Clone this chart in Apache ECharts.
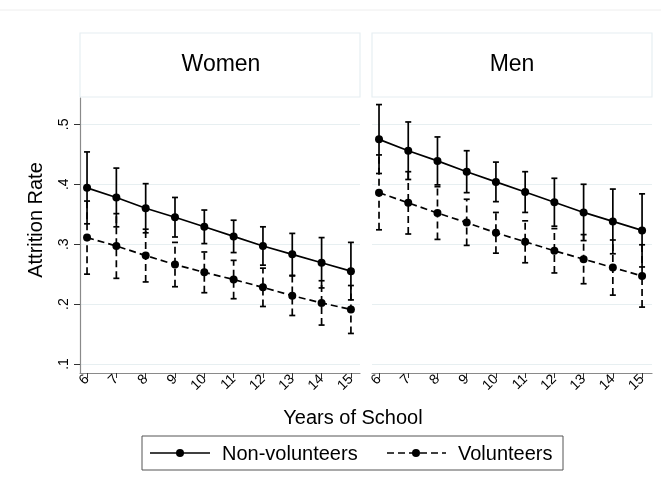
<!DOCTYPE html>
<html>
<head>
<meta charset="utf-8">
<script src="https://cdn.jsdelivr.net/npm/echarts@6/dist/echarts.min.js"></script>
<style>html,body{margin:0;padding:0;background:#fff;}#c{width:661px;height:487px;}</style>
</head>
<body>
<div id="c"></div>
<script>
var years = [6, 7, 8, 9, 10, 11, 12, 13, 14, 15];
var yTicks = [0.1, 0.2, 0.3, 0.4, 0.5];
var panels = ['Women', 'Men'];
var seriesNames = ['Non-volunteers', 'Volunteers'];

var womenNonVol   = [0.394, 0.378, 0.360, 0.345, 0.329, 0.313, 0.297, 0.283, 0.269, 0.255];
var womenNonVolLo = [0.334, 0.329, 0.319, 0.312, 0.301, 0.286, 0.265, 0.248, 0.227, 0.207];
var womenNonVolHi = [0.454, 0.427, 0.401, 0.378, 0.357, 0.340, 0.329, 0.318, 0.311, 0.303];

var womenVol   = [0.311, 0.297, 0.281, 0.266, 0.253, 0.241, 0.228, 0.214, 0.202, 0.191];
var womenVolLo = [0.250, 0.243, 0.237, 0.229, 0.219, 0.209, 0.196, 0.181, 0.165, 0.151];
var womenVolHi = [0.372, 0.351, 0.325, 0.303, 0.287, 0.273, 0.260, 0.247, 0.239, 0.231];

var menNonVol   = [0.475, 0.456, 0.439, 0.421, 0.404, 0.387, 0.370, 0.353, 0.338, 0.323];
var menNonVolLo = [0.418, 0.408, 0.399, 0.386, 0.371, 0.353, 0.330, 0.306, 0.284, 0.262];
var menNonVolHi = [0.533, 0.504, 0.479, 0.456, 0.437, 0.421, 0.410, 0.400, 0.392, 0.384];

var menVol   = [0.386, 0.369, 0.352, 0.336, 0.319, 0.304, 0.289, 0.275, 0.261, 0.247];
var menVolLo = [0.324, 0.317, 0.308, 0.298, 0.285, 0.269, 0.252, 0.234, 0.215, 0.195];
var menVolHi = [0.449, 0.421, 0.396, 0.375, 0.353, 0.339, 0.326, 0.316, 0.307, 0.299];

var FONT = '"Liberation Sans", Arial, sans-serif';
var DASH = [7, 4];

function pairs(vals) { return years.map(function (y, i) { return [y, vals[i]]; }); }
function triples(lo, hi) { return years.map(function (y, i) { return [y, lo[i], hi[i]]; }); }

function errSeries(name, idx, lo, hi, dashed) {
  return {
    type: 'custom', name: name, xAxisIndex: idx, yAxisIndex: idx, z: 3,
    data: triples(lo, hi), silent: true,
    renderItem: function (params, api) {
      var x = api.value(0);
      var p1 = api.coord([x, api.value(1)]);
      var p2 = api.coord([x, api.value(2)]);
      var cw = 3;
      var st = { stroke: '#000', lineWidth: 1.7, lineDash: dashed ? DASH : null };
      var cs = { stroke: '#000', lineWidth: 1.7 };
      return {
        type: 'group',
        children: [
          { type: 'line', shape: { x1: p1[0], y1: p1[1], x2: p2[0], y2: p2[1] }, style: st },
          { type: 'line', shape: { x1: p1[0] - cw, y1: p1[1], x2: p1[0] + cw, y2: p1[1] }, style: cs },
          { type: 'line', shape: { x1: p2[0] - cw, y1: p2[1], x2: p2[0] + cw, y2: p2[1] }, style: cs }
        ]
      };
    }
  };
}

function lineSeries(name, idx, vals, dashed) {
  return {
    type: 'line', name: name, xAxisIndex: idx, yAxisIndex: idx, z: 4,
    data: pairs(vals), symbol: 'circle', symbolSize: 8, showSymbol: true,
    lineStyle: { color: '#000', width: 1.7, type: dashed ? DASH : 'solid' },
    itemStyle: { color: '#000' }, silent: true
  };
}

function xAxisFor(idx, min, max) {
  return {
    type: 'value', gridIndex: idx, min: min, max: max,
    axisLine: { show: true, lineStyle: { color: '#8a8a8a', width: 1.2 } },
    axisTick: { show: true, customValues: years, length: 5, lineStyle: { color: '#333', width: 1 } },
    axisLabel: { customValues: years, rotate: 45, fontSize: 14, color: '#000', fontFamily: FONT, margin: 4 },
    splitLine: { show: false }
  };
}

function yAxisFor(idx, showAxis) {
  return {
    type: 'value', gridIndex: idx, min: 0.085, max: 0.544,
    axisLine: { show: showAxis, lineStyle: { color: '#8a8a8a', width: 1.2 } },
    axisTick: { show: showAxis, customValues: yTicks, length: 6, lineStyle: { color: '#333' } },
    axisLabel: {
      show: showAxis, customValues: yTicks, rotate: 90, fontSize: 14, color: '#000', fontFamily: FONT, margin: 9,
      formatter: function (v) { return String(Math.round(v * 10) / 10).replace(/^0/, ''); }
    },
    splitLine: { show: true, lineStyle: { color: '#e7eff1', width: 1.2 } }
  };
}

var option = {
  backgroundColor: '#fff',
  animation: false,
  grid: [
    { left: 80, top: 98, width: 280, height: 275 },
    { left: 372, top: 98, width: 280, height: 275 }
  ],
  xAxis: [xAxisFor(0, 5.76, 15.31), xAxisFor(1, 5.76, 15.34)],
  yAxis: [yAxisFor(0, true), yAxisFor(1, false)],
  graphic: [
    { type: 'line', shape: { x1: 0, y1: 10, x2: 661, y2: 10 }, style: { stroke: '#eeeeee', lineWidth: 1 }, silent: true },
    { type: 'rect', shape: { x: 80, y: 33, width: 280, height: 64 }, style: { fill: '#fff', stroke: '#e6eef2', lineWidth: 1.2 } },
    { type: 'rect', shape: { x: 372, y: 33, width: 280, height: 64 }, style: { fill: '#fff', stroke: '#e6eef2', lineWidth: 1.2 } },
    { type: 'text', x: 221, y: 65, style: { text: panels[0], fontSize: 23, fill: '#000', fontFamily: FONT, align: 'center', verticalAlign: 'middle' } },
    { type: 'text', x: 512, y: 65, style: { text: panels[1], fontSize: 23, fill: '#000', fontFamily: FONT, align: 'center', verticalAlign: 'middle' } },
    { type: 'text', x: 36, y: 220, rotation: Math.PI / 2, style: { text: 'Attrition Rate', fontSize: 20, fill: '#000', fontFamily: FONT, align: 'center', verticalAlign: 'middle' } },
    { type: 'text', x: 353, y: 418, style: { text: 'Years of School', fontSize: 20, fill: '#000', fontFamily: FONT, align: 'center', verticalAlign: 'middle' } },
    { type: 'rect', shape: { x: 142, y: 436, width: 421, height: 34 }, style: { fill: '#fff', stroke: '#555', lineWidth: 1 } },
    { type: 'line', shape: { x1: 150, y1: 453, x2: 210, y2: 453 }, style: { stroke: '#000', lineWidth: 1.7 } },
    { type: 'circle', shape: { cx: 180, cy: 453, r: 4 }, style: { fill: '#000' } },
    { type: 'text', x: 222, y: 454, style: { text: seriesNames[0], fontSize: 20, fill: '#000', fontFamily: FONT, verticalAlign: 'middle' } },
    { type: 'line', shape: { x1: 387, y1: 453, x2: 446, y2: 453 }, style: { stroke: '#000', lineWidth: 1.7, lineDash: DASH } },
    { type: 'circle', shape: { cx: 416, cy: 453, r: 4 }, style: { fill: '#000' } },
    { type: 'text', x: 458, y: 454, style: { text: seriesNames[1], fontSize: 20, fill: '#000', fontFamily: FONT, verticalAlign: 'middle' } }
  ],
  series: [
    errSeries(seriesNames[0], 0, womenNonVolLo, womenNonVolHi, false),
    errSeries(seriesNames[1], 0, womenVolLo, womenVolHi, true),
    lineSeries(seriesNames[0], 0, womenNonVol, false),
    lineSeries(seriesNames[1], 0, womenVol, true),
    errSeries(seriesNames[0], 1, menNonVolLo, menNonVolHi, false),
    errSeries(seriesNames[1], 1, menVolLo, menVolHi, true),
    lineSeries(seriesNames[0], 1, menNonVol, false),
    lineSeries(seriesNames[1], 1, menVol, true)
  ]
};

var chart = echarts.init(document.getElementById('c'), null, { renderer: 'canvas' });
chart.setOption(option);
</script>
</body>
</html>
